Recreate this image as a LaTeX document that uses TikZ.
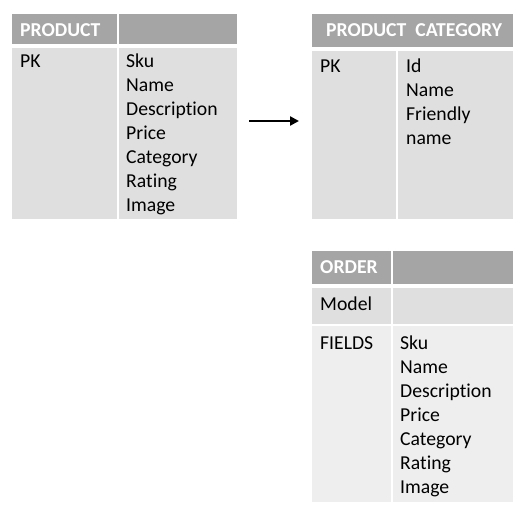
\documentclass[tikz,border=0pt]{standalone}
\usepackage{fontspec}
\setmainfont{Carlito}[Ligatures=NoCommon]
\usetikzlibrary{arrows.meta}
\definecolor{hdr}{HTML}{A5A5A5}
\definecolor{bodyg}{HTML}{DFDFDF}
\definecolor{lightg}{HTML}{EEEEEE}
\tikzset{
  cell/.style={draw=none, inner sep=0pt, outer sep=0pt, anchor=north west},
  hcell/.style={cell, fill=hdr},
  bcell/.style={cell, fill=bodyg},
  lcell/.style={cell, fill=lightg},
  htext/.style={anchor=base west, inner sep=0pt, text=white, font=\fontsize{19.7}{24}\selectfont\bfseries},
  btext/.style={anchor=base west, inner sep=0pt, text=black, font=\fontsize{19.7}{24}\selectfont},
  arr/.style={line width=2.7pt, -{Triangle[length=9pt,width=9pt]}},
}
\begin{document}
\begin{tikzpicture}[x=1pt,y=-1pt]
\useasboundingbox (0,0) rectangle (532,518);
% PRODUCT table
\node[hcell, minimum width=105, minimum height=30] (ph1) at (12,14) {};
\node[hcell, minimum width=118, minimum height=30] (ph2) at (119,14) {};
\node[bcell, minimum width=105, minimum height=171] (pb1) at (12,48) {};
\node[bcell, minimum width=118, minimum height=171] (pb2) at (119,48) {};
\node[htext] (pt) at (20,37) {PRODUCT};
\node[btext] (ppk) at (20,68) {PK};
\foreach \t [count=\i from 0] in {Sku,Name,Description,Price,Category,Rating,Image}
  \node[btext] (pv\i) at (126,68+24*\i) {\t};
% PRODUCT CATEGORY table
\node[hcell, minimum width=201, minimum height=33] (ch) at (312,14) {};
\node[bcell, minimum width=84, minimum height=168] (cb1) at (312,51) {};
\node[bcell, minimum width=115, minimum height=168] (cb2) at (398,51) {};
\node[htext] (ct) at (326,37) {PRODUCT\ \ CATEGORY};
\node[btext] (cpk) at (320,73) {PK};
\foreach \t [count=\i from 0] in {Id,Name,Friendly,name}
  \node[btext] (cv\i) at (406,73+24*\i) {\t};
% ORDER table
\node[hcell, minimum width=79, minimum height=33] (oh1) at (312,251) {};
\node[hcell, minimum width=120, minimum height=33] (oh2) at (393,251) {};
\node[bcell, minimum width=79, minimum height=36] (om1) at (312,288) {};
\node[bcell, minimum width=120, minimum height=36] (om2) at (393,288) {};
\node[lcell, minimum width=79, minimum height=176] (of1) at (312,326) {};
\node[lcell, minimum width=120, minimum height=176] (of2) at (393,326) {};
\node[htext] (ot) at (320,273) {ORDER};
\node[btext] (omodel) at (320,310) {Model};
\node[btext] (ofields) at (320,349) {FIELDS};
\foreach \t [count=\i from 0] in {Sku,Name,Description,Price,Category,Rating,Image}
  \node[btext] (ov\i) at (400,349+24*\i) {\t};
% arrow
\coordinate (a1) at ([xshift=12pt]pb2.north east |- 0,121);
\coordinate (a2) at ([xshift=-13pt]cb1.north west |- 0,121);
\draw[arr] (a1) -- (a2);
\end{tikzpicture}
\end{document}
